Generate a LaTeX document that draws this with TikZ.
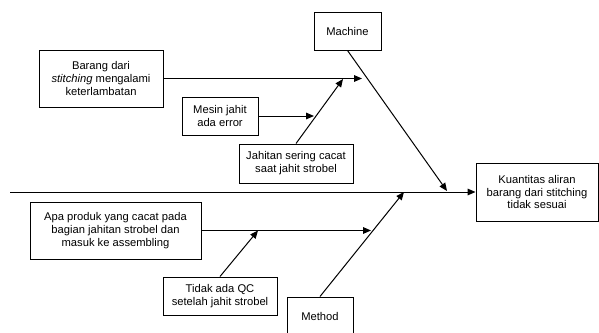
\documentclass[tikz,border=0pt]{standalone}
\usepackage{fontspec}
\setmainfont{Liberation Sans}
\usetikzlibrary{arrows.meta}
\tikzset{
  cause/.style={draw, line width=0.75pt, align=center, inner sep=0pt, font=\fontsize{8.4}{9.7}\selectfont},
  arr/.style={line width=0.75pt, -{Triangle[length=6pt, width=5pt]}},
  bone/.style={line width=0.75pt}
}
\begin{document}
\begin{tikzpicture}[x=0.75pt,y=0.75pt,yscale=-1,xscale=1]
\useasboundingbox (0,0) rectangle (599,332);
\clip (0,0) rectangle (599,332);
% Boxes
\node [cause, minimum width=50.25pt, minimum height=28.5pt] (machine) at (347.5,31) {Machine};
\node [cause, minimum width=93pt, minimum height=42.75pt] (barang) at (101,78.5) {Barang dari\\\textit{stitching} mengalami\\keterlambatan};
\node [cause, minimum width=57pt, minimum height=28.5pt] (mesin) at (220,116) {Mesin jahit\\ada error};
\node [cause, minimum width=85.5pt, minimum height=29.25pt] (jahitan) at (296,163.5) {Jahitan sering cacat\\saat jahit strobel};
\node [cause, minimum width=91.5pt, minimum height=43.5pt] (effect) at (537,192) {Kuantitas aliran\\barang dari stitching\\tidak sesuai};
\node [cause, minimum width=128.25pt, minimum height=42.75pt] (apa) at (115.5,230.5) {Apa produk yang cacat pada\\bagian jahitan strobel dan\\masuk ke assembling};
\node [cause, minimum width=85.5pt, minimum height=28.5pt] (tidak) at (220,296) {Tidak ada QC\\setelah jahit strobel};
\node [cause, minimum width=49.5pt, minimum height=28.5pt] (method) at (320,316) {Method};

% Arrow ends
\coordinate (tail) at (10,192);
\coordinate (machinehead) at (447,191);
\coordinate (baranghead) at (362,78.5);
\coordinate (mesinhead) at (314,116);
\coordinate (jahitanhead) at (343,79);
\coordinate (apahead) at (371,230.5);
\coordinate (tidakhead) at (258,230.5);
\coordinate (methodhead) at (404,192);

% Spine
\draw [arr] (tail) -- (effect.west);
% Machine bone
\draw [arr] (machine.south) -- (machinehead);
\draw [arr] (barang.east) -- (baranghead);
\draw [arr] (mesin.east) -- (mesinhead);
\draw [arr] (jahitan.north) -- (jahitanhead);
% Method bone
\draw [arr] (method.north) -- (methodhead);
\draw [arr] (apa.east) -- (apahead);
\draw [arr] (tidak.north) -- (tidakhead);
\end{tikzpicture}
\end{document}
